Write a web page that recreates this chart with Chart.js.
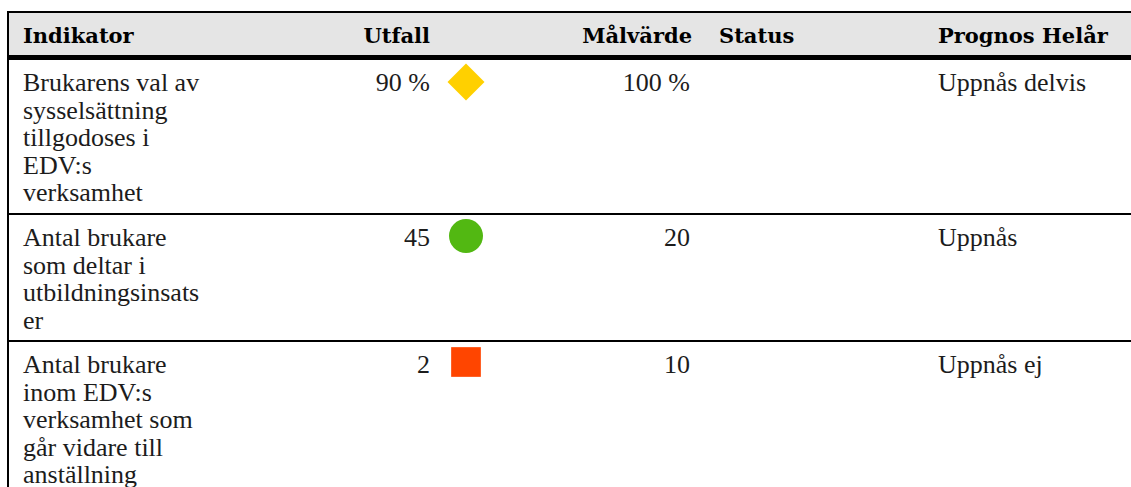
<!DOCTYPE html>
<html>
<head>
<meta charset="utf-8">
<script src="https://cdn.jsdelivr.net/npm/chart.js@4/dist/chart.umd.min.js"></script>
<style>
  html, body { margin: 0; padding: 0; background: #fff; width: 1131px; height: 487px; overflow: hidden; }
  body { font-family: "Liberation Serif", serif; color: #1c1c1c; position: relative; }
  .vline { position: absolute; left: 7px; top: 11px; width: 2px; height: 480px; background: #000; }
  .hline { position: absolute; left: 7px; right: 0; background: #000; }
  .hdrbg { position: absolute; left: 9px; right: 0; top: 13px; height: 42px; background: #e5e5e5; }
  .t { position: absolute; white-space: nowrap; font-size: 26px; line-height: 27.5px; }
  .h { font-family: "DejaVu Serif", serif; font-weight: bold; color: #000; font-size: 21px; }
  .sym { position: absolute; width: 60px; height: 60px; }
</style>
</head>
<body>
<div class="hdrbg"></div>
<div class="hline" style="top:11px;height:2px"></div>
<div class="hline" style="top:55px;height:5px"></div>
<div class="hline" style="top:213px;height:2px"></div>
<div class="hline" style="top:340px;height:2px"></div>
<div class="vline"></div>
<div id="root"></div>
<script>
const headers = ["Indikator", "Utfall", "Målvärde", "Status", "Prognos Helår"];
const indicatorLines = [
  ["Brukarens val av", "sysselsättning", "tillgodoses i", "EDV:s", "verksamhet"],
  ["Antal brukare", "som deltar i", "utbildningsinsats", "er"],
  ["Antal brukare", "inom EDV:s", "verksamhet som", "går vidare till", "anställning"]
];
const utfall = ["90 %", "45", "2"];
const malvarde = ["100 %", "20", "10"];
const statusSymbol = ["rectRot", "circle", "rect"];
const statusColor = ["#ffd000", "#52b812", "#ff4500"];
const prognos = ["Uppnås delvis", "Uppnås", "Uppnås ej"];

const rowTops = [60, 215, 342];
const symCenterOffset = [22, 20.5, 20];
const symRadius = [18.5, 17, 21];

const root = document.getElementById('root');
function addText(txt, opts) {
  const d = document.createElement('div');
  d.className = 't' + (opts.bold ? ' h' : '');
  d.innerHTML = txt;
  d.style.top = opts.top + 'px';
  if (opts.left !== undefined) d.style.left = opts.left + 'px';
  if (opts.right !== undefined) d.style.right = (1131 - opts.right) + 'px';
  root.appendChild(d);
}
// header
addText(headers[0], {bold: true, top: 22, left: 23});
addText(headers[1], {bold: true, top: 22, right: 430});
addText(headers[2], {bold: true, top: 22, right: 692});
addText(headers[3], {bold: true, top: 22, left: 719});
addText(headers[4], {bold: true, top: 22, left: 938});

indicatorLines.forEach((lines, i) => {
  const top = rowTops[i] + 9;
  addText(lines.join('<br>'), {top: top, left: 23});
  addText(utfall[i], {top: top, right: 430});
  addText(malvarde[i], {top: top, right: 690});
  addText(prognos[i], {top: top, left: 938});

  const wrap = document.createElement('div');
  wrap.className = 'sym';
  wrap.style.left = (466 - 30) + 'px';
  wrap.style.top = (rowTops[i] + symCenterOffset[i] - 30) + 'px';
  const c = document.createElement('canvas');
  c.width = 60; c.height = 60;
  c.style.width = '60px'; c.style.height = '60px';
  wrap.appendChild(c);
  root.appendChild(wrap);
  new Chart(c, {
    type: 'scatter',
    data: { datasets: [{
      data: [{x: 0, y: 0}],
      clip: false,
      pointStyle: statusSymbol[i],
      pointRadius: symRadius[i],
      pointHoverRadius: symRadius[i],
      backgroundColor: statusColor[i],
      borderColor: statusColor[i],
      borderWidth: 0
    }]},
    options: {
      responsive: false, animation: false,
      devicePixelRatio: 1,
      layout: { padding: 0 },
      events: [],
      plugins: { legend: { display: false }, tooltip: { enabled: false } },
      scales: {
        x: { display: false, min: -1, max: 1 },
        y: { display: false, min: -1, max: 1 }
      }
    }
  });
});
</script>
</body>
</html>
